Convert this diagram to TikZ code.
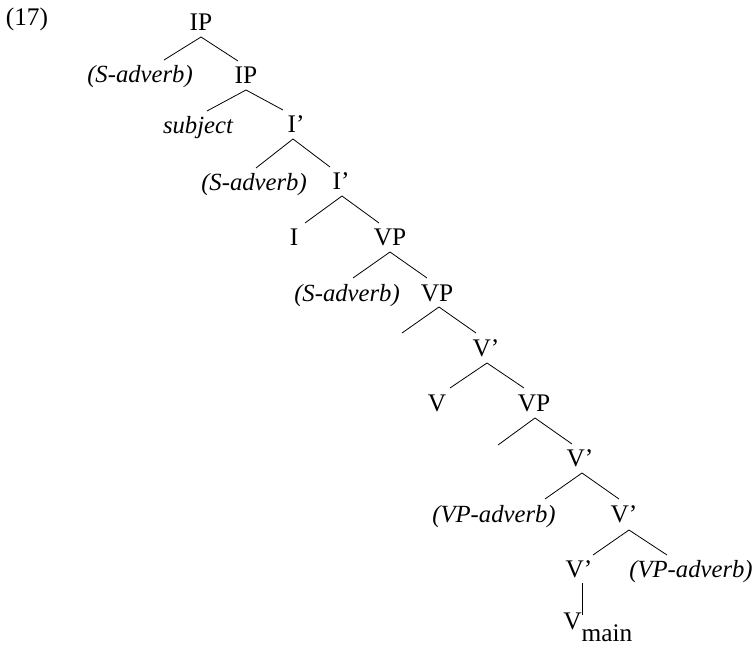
\documentclass[tikz,border=0pt]{standalone}
\usepackage{fontspec}
\setmainfont{Liberation Serif}
\usetikzlibrary{calc}
\tikzset{lbl/.style={font=\fontsize{19}{23}\selectfont,inner sep=0pt,anchor=base},adv/.style={lbl,font=\fontsize{18.5}{23}\selectfont\itshape},branch/.style={line width=0.6pt}}

\begin{document}
\begin{tikzpicture}[x=0.75pt,y=-0.75pt]
\useasboundingbox (0,0) rectangle (756,648);
\node[lbl] (num) at (27,26) {(17)};
\node[lbl] (ip1) at (201,31) {IP};
\node[adv] (sadv1) at (140,83) {(S-adverb)};
\node[lbl] (ip2) at (246,84) {IP};
\node[adv] (subj) at (198,134) {subject};
\node[lbl] (ibar1) at (296,133) {I'};
\node[adv] (sadv2) at (254,191) {(S-adverb)};
\node[lbl] (ibar2) at (341,190) {I'};
\node[lbl] (infl) at (294,246) {I};
\node[lbl] (vp1) at (390,246) {VP};
\node[adv] (sadv3) at (347,301) {(S-adverb)};
\node[lbl] (vp2) at (437,301) {VP};
\node[lbl] (vbar1) at (486,356) {V'};
\node[lbl] (verb) at (437,411) {V};
\node[lbl] (vp3) at (534,411) {VP};
\node[lbl] (vbar2) at (580,466) {V'};
\node[adv] (vpadv1) at (494,522) {(VP-adverb)};
\node[lbl] (vbar3) at (624,522) {V'};
\node[lbl] (vbar4) at (579,577) {V'};
\node[adv] (vpadv2) at (691,577) {(VP-adverb)};
\node[lbl,anchor=base west] (vmain) at (563,629) {V\raisebox{-9pt}{main}};
% empty left branches
\coordinate (vp2l) at ($(vp2.base)+(-35,32)$);
\coordinate (vp3l) at ($(vp3.base)+(-36,34)$);
% branches
\draw[branch] ($(ip1.base)+(0,6)$) -- ($(sadv1.base)+(24,-23)$);
\draw[branch] ($(ip1.base)+(0,6)$) -- ($(ip2.base)+(-8,-23)$);
\draw[branch] ($(ip2.base)+(0,6)$) -- ($(subj.base)+(9,-23)$);
\draw[branch] ($(ip2.base)+(0,6)$) -- ($(ibar1.base)+(-13,-23)$);
\draw[branch] ($(ibar1.base)+(-3,6)$) -- ($(sadv2.base)+(2,-23)$);
\draw[branch] ($(ibar1.base)+(-3,6)$) -- ($(ibar2.base)+(-11,-23)$);
\draw[branch] ($(ibar2.base)+(1,6)$) -- ($(infl.base)+(11,-23)$);
\draw[branch] ($(ibar2.base)+(1,6)$) -- ($(vp1.base)+(-11,-23)$);
\draw[branch] ($(vp1.base)+(0,6)$) -- ($(sadv3.base)+(6,-23)$);
\draw[branch] ($(vp1.base)+(0,6)$) -- ($(vp2.base)+(-10,-23)$);
\draw[branch] ($(vp2.base)+(2,6)$) -- (vp2l);
\draw[branch] ($(vp2.base)+(2,6)$) -- ($(vbar1.base)+(-10,-23)$);
\draw[branch] ($(vbar1.base)+(1,7)$) -- ($(verb.base)+(13,-23)$);
\draw[branch] ($(vbar1.base)+(1,7)$) -- ($(vp3.base)+(-10,-23)$);
\draw[branch] ($(vp3.base)+(1,7)$) -- (vp3l);
\draw[branch] ($(vp3.base)+(1,7)$) -- ($(vbar2.base)+(-8,-22)$);
\draw[branch] ($(vbar2.base)+(2,7)$) -- ($(vpadv1.base)+(51,-23)$);
\draw[branch] ($(vbar2.base)+(2,7)$) -- ($(vbar3.base)+(-5,-23)$);
\draw[branch] ($(vbar3.base)+(5,8)$) -- ($(vbar4.base)+(14,-22)$);
\draw[branch] ($(vbar3.base)+(5,8)$) -- ($(vpadv2.base)+(-24,-22)$);
\draw[branch] ($(vbar4.base)+(3,6)$) -- ($(vmain.north west)+(19,3)$);
\end{tikzpicture}
\end{document}
